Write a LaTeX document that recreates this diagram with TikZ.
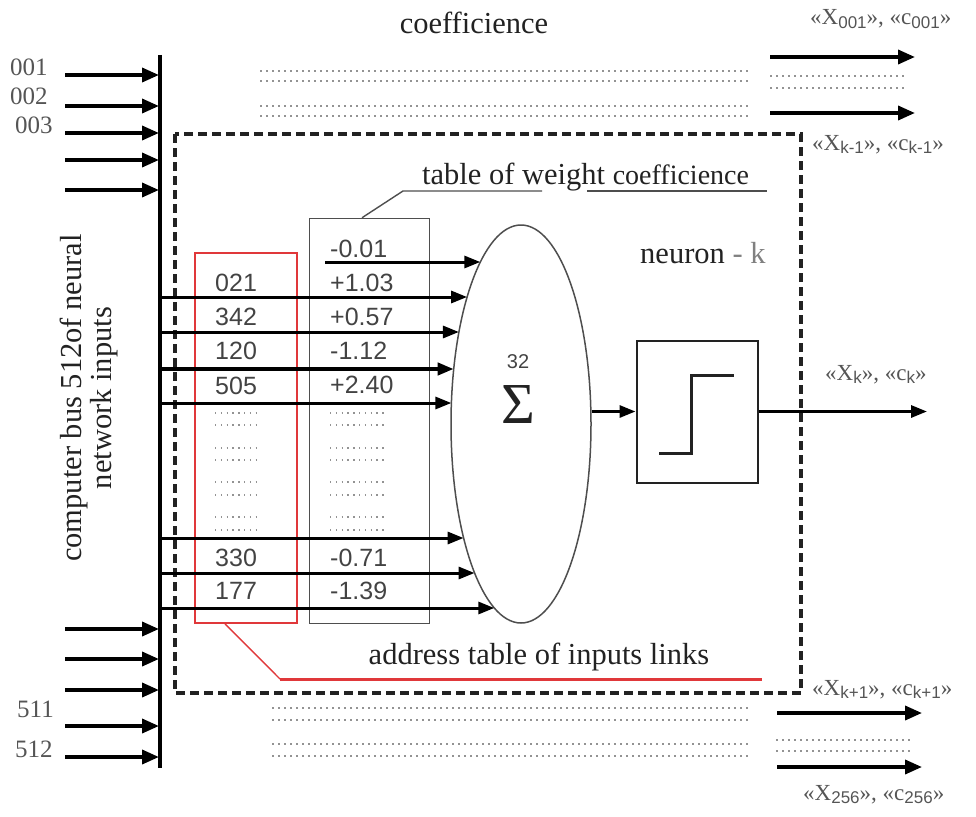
\documentclass[tikz,border=0pt]{standalone}
\usepackage{fontspec}
\setmainfont{Liberation Serif}
\newfontfamily\numfont{Liberation Sans}
\usetikzlibrary{arrows.meta,shapes.geometric}
\definecolor{txt}{HTML}{222222}
\definecolor{lbl}{HTML}{555555}
\definecolor{redl}{HTML}{E0383A}
\newcommand\sbs[1]{\raisebox{-0.35ex}{\numfont\fontsize{17}{17}\selectfont #1}}
\begin{document}
\begin{tikzpicture}[x=1pt,y=-1pt,
  busarr/.style={line width=3.6pt,-{Triangle[length=17pt,width=14pt]}},
  inarr/.style={line width=3pt,-{Triangle[length=16pt,width=12pt]}},
  dots/.style={gray!85,line width=1.5pt,dash pattern=on 1.5pt off 4.5pt},
  big/.style={font=\fontsize{30.5}{30}\selectfont,text=txt,inner sep=0pt},
  num/.style={font=\numfont\fontsize{25}{26}\selectfont,text=txt!85,inner sep=0pt,anchor=base west},
  side/.style={font=\fontsize{23}{24}\selectfont,text=lbl,inner sep=0pt,anchor=base west},
  inl/.style={font=\fontsize{25}{26}\selectfont,text=lbl,inner sep=0pt,anchor=base west},
]
\useasboundingbox (0,0) rectangle (976,816);

% bus
\coordinate (bt) at (160,55);
\coordinate (bb) at (160,768);
\draw[line width=4.5pt] (bt) -- (bb);
\foreach \y in {75,106,133,160,190,629,659,690,726,757}
  \draw[busarr] (65,\y) -- (159,\y);
\node[inl] (l1) at (10,75) {001};
\node[inl] (l2) at (10,104) {002};
\node[inl] (l3) at (15,133) {003};
\node[inl] (l511) at (17,717) {511};
\node[inl] (l512) at (15,757) {512};

% vertical label
\node[big,rotate=90,align=center] (busl) at (89,398) {computer bus 512of neural\\network inputs};

% top text and dotted lines
\node[big,anchor=base] (coef) at (474,34) {coefficience};
\foreach \y in {71,81,106,116} \draw[dots] (260,\y) -- (752,\y);
\foreach \y in {708,720,744,756} \draw[dots] (272,\y) -- (752,\y);
\foreach \y in {76,88} \draw[dots] (770,\y) -- (908,\y);
\foreach \y in {740,751} \draw[dots] (776,\y) -- (910,\y);

% right outputs
\coordinate (o1a) at (770,57); \coordinate (o1b) at (915,57);
\coordinate (o2a) at (770,113); \coordinate (o2b) at (915,113);
\coordinate (o3a) at (777,713); \coordinate (o3b) at (922,713);
\coordinate (o4a) at (777,767); \coordinate (o4b) at (922,767);
\draw[busarr] (o1a) -- (o1b);
\draw[busarr] (o2a) -- (o2b);
\draw[busarr] (o3a) -- (o3b);
\draw[busarr] (o4a) -- (o4b);
\node[side] (s1) at (810,25) {«X\sbs{001}», «c\sbs{001}»};
\node[side] (s2) at (812,150) {«X\sbs{k-1}», «c\sbs{k-1}»};
\node[side] (s3) at (812,695) {«X\sbs{k+1}», «c\sbs{k+1}»};
\node[side] (s4) at (803,800) {«X\sbs{256}», «c\sbs{256}»};
\node[side] (sk) at (825,380) {«X\sbs{k}», «c\sbs{k}»};

% dashed neuron box
\draw[txt,line width=3.2pt,dash pattern=on 9pt off 5pt] (175,134) rectangle (801,693);

% tables
\node[draw=redl,line width=1.6pt,minimum width=102,minimum height=370,inner sep=0] (adr) at (246,438) {};
\node[draw=txt!80,line width=1.5pt,minimum width=120,minimum height=405,inner sep=0] (wt) at (369.5,421) {};
\foreach \y/\t in {291/021,325/342,359/120,394/505,566/330,599/177}
  \node[num] at (215,\y) {\t};
\foreach \y/\t in {257/-0.01,291/+1.03,325/+0.57,359/-1.12,393/+2.40,566/-0.71,599/-1.39}
  \node[num] at (330,\y) {\t};
\foreach \y in {413,425,448,460,482,495,517,530} {
  \draw[dots,line width=1.3pt,dash pattern=on 1.3pt off 4.5pt] (215,\y) -- (256,\y);
  \draw[dots,line width=1.3pt,dash pattern=on 1.3pt off 4.5pt] (330,\y) -- (386,\y);
}

% table labels
\node[big,anchor=base west] (wtl) at (422,184) {table of weight \fontsize{28}{30}\selectfont coefficience};
\coordinate (wl1) at (403,191);
\draw[txt!80,line width=1.4pt] (wt.north -| 362,0) -- (wl1) -- (542,191);
\draw[txt!80,line width=1.4pt] (587,191) -- (767,191);
\node[big,anchor=base] (adl) at (539,664) {address table of inputs links};
\coordinate (rl1) at (280,679);
\coordinate (rl2) at (762,679);
\draw[redl,line width=1.4pt] (adr.south -| 225,0) -- (rl1);
\draw[redl,line width=3pt] (rl1) -- (rl2);

% summator
\node[ellipse,draw=txt!80,line width=1.5pt,minimum width=140,minimum height=398,inner sep=0] (sum) at (521,424) {};
\node[font=\fontsize{58}{58}\selectfont,text=txt,inner sep=0] (sig) at (518,405) {Σ};
\node[font=\numfont\fontsize{20}{20}\selectfont,text=txt!85,inner sep=0] (n32) at (518,362) {32};
\foreach \yy/\xs/\w in {262/325/3,297/160/3,332/160/3,369/160/3.8,403/160/3,538/160/3,573/160/3,608/160/3}{
  \pgfmathsetmacro\xe{521-70*sqrt(1-((\yy-424)/199)^2)}
  \draw[inarr,line width=\w pt] (\xs,\yy) -- (\xe,\yy);
}

% activation
\node[draw=txt,line width=2pt,minimum width=121,minimum height=142,inner sep=0] (act) at (697,411.5) {};
\draw[txt,line width=3pt] (659,453) -- (691,453) -- (691,375) -- (734,375);
\draw[inarr] (sum.east |- act.west) -- (act.west);
\coordinate (out) at (927,411.5);
\draw[inarr] (act.east) -- (out);
\node[big,anchor=base west] (neur) at (640,263) {neuron \textcolor{gray}{- k}};
\end{tikzpicture}
\end{document}
